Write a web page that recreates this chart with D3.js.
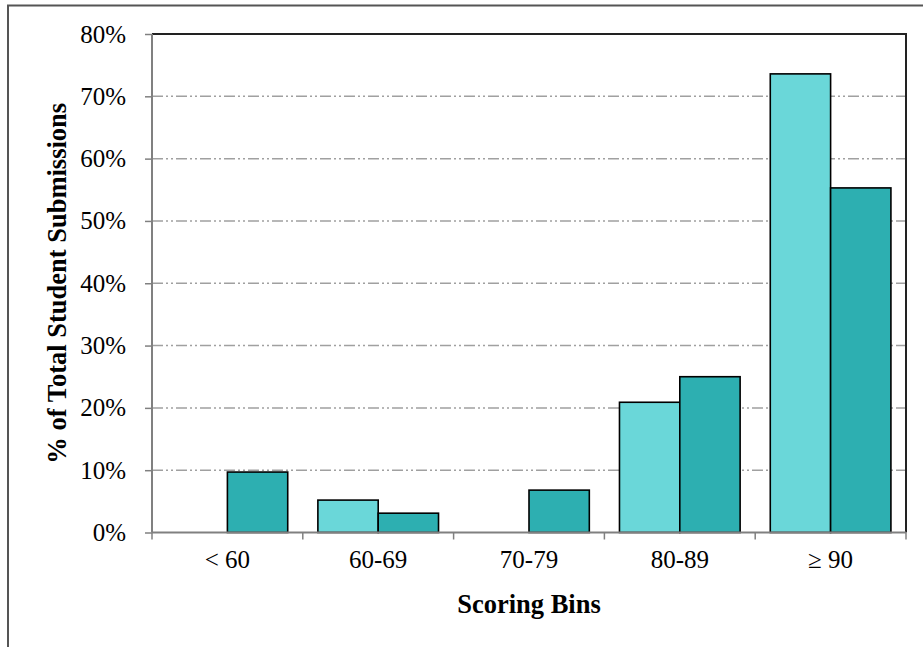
<!DOCTYPE html>
<html>
<head>
<meta charset="utf-8">
<script src="https://cdn.jsdelivr.net/npm/d3@7"></script>
<style>
  html, body { margin: 0; padding: 0; background: #fff; }
  svg { display: block; }
  text { font-family: "Liberation Serif", "Times New Roman", serif; fill: #000; }
</style>
</head>
<body>
<svg id="chart" width="923" height="647"></svg>
<script>
// Score bins and share of submissions (%) for the two groups
const bins = ["< 60", "60-69", "70-79", "80-89", "\u2265 90"];
const seriesNames = ["Group A", "Group B"];
const groupA = [0, 5.2, 0, 20.9, 73.6];
const groupB = [9.7, 3.1, 6.8, 25.0, 55.3];
const yTicks = [0, 10, 20, 30, 40, 50, 60, 70, 80];
const colors = ["#6ad7d9", "#2dafb1"];

const svg = d3.select("#chart");
const margin = { left: 152, top: 34, right: 17, bottom: 114.5 };
const W = 923, H = 647;
const iw = W - margin.left - margin.right;
const ih = H - margin.top - margin.bottom;
const serif = "'Liberation Serif', 'Times New Roman', serif";

// Outer frame
svg.append("path")
  .attr("d", "M8,647 V5.5 H923")
  .attr("fill", "none").attr("stroke", "#555").attr("stroke-width", 2);

const g = svg.append("g").attr("transform", `translate(${margin.left},${margin.top})`);

const x0 = d3.scaleBand().domain(bins).range([0, iw]).paddingInner(0).paddingOuter(0);
const x1 = d3.scaleBand().domain(seriesNames).range([0, x0.bandwidth()]).paddingInner(0).paddingOuter(0.25);
const y = d3.scaleLinear().domain([0, 80]).range([ih, 0]);

// Dash-dot-dot gridlines
g.append("g").selectAll("line")
  .data(yTicks.filter(t => t > 0 && t < 80))
  .join("line")
  .attr("x1", 0).attr("x2", iw)
  .attr("y1", d => y(d)).attr("y2", d => y(d))
  .attr("stroke", "#a0a0a0").attr("stroke-width", 1.5)
  .attr("stroke-dasharray", "11,3,2,3,2,3");

// Bars
const data = bins.map((b, i) => ({ bin: b, vals: [groupA[i], groupB[i]] }));
g.append("g").selectAll("g")
  .data(data)
  .join("g")
  .attr("transform", d => `translate(${x0(d.bin)},0)`)
  .selectAll("rect")
  .data(d => d.vals.map((v, j) => ({ v, s: seriesNames[j], j })).filter(e => e.v > 0))
  .join("rect")
  .attr("x", e => x1(e.s))
  .attr("width", x1.bandwidth())
  .attr("y", e => y(e.v))
  .attr("height", e => y(0) - y(e.v))
  .attr("fill", e => colors[e.j])
  .attr("stroke", "#000").attr("stroke-width", 1.6);

// Plot frame: top and right dark, left and bottom axes gray
g.append("path")
  .attr("d", `M0,0 H${iw} V${ih}`)
  .attr("fill", "none").attr("stroke", "#222").attr("stroke-width", 2);

// Y axis
const yAxis = g.append("g")
  .call(d3.axisLeft(y).tickValues(yTicks).tickFormat(d => d + "%").tickSize(7).tickPadding(19));
yAxis.attr("font-family", serif);
yAxis.select(".domain").attr("stroke", "#808080").attr("stroke-width", 2).attr("d", `M0,${ih} V0`);
yAxis.selectAll(".tick line").attr("stroke", "#808080").attr("stroke-width", 1.5);
yAxis.selectAll(".tick text")
  .style("font-family", serif)
  .attr("font-size", 25).attr("fill", "#000");

// X axis: ticks at bin boundaries, labels centred on bins
const xAxisG = g.append("g").attr("transform", `translate(0,${ih})`);
xAxisG.append("line")
  .attr("x1", 0).attr("x2", iw).attr("y1", 0).attr("y2", 0)
  .attr("stroke", "#808080").attr("stroke-width", 2);
const bounds = bins.map(b => x0(b)).concat([iw]);
xAxisG.selectAll("line.tk")
  .data(bounds)
  .join("line").attr("class", "tk")
  .attr("x1", d => d).attr("x2", d => d)
  .attr("y1", 0).attr("y2", 7)
  .attr("stroke", "#808080").attr("stroke-width", 1.5);
xAxisG.selectAll("text.lbl")
  .data(bins)
  .join("text").attr("class", "lbl")
  .attr("x", d => x0(d) + x0.bandwidth() / 2)
  .attr("y", 35)
  .attr("text-anchor", "middle")
  .style("font-family", serif)
  .attr("font-size", 25)
  .text(d => d);

// Axis titles
svg.append("text")
  .attr("x", margin.left + iw / 2).attr("y", 613)
  .attr("text-anchor", "middle")
  .style("font-family", serif)
  .attr("font-weight", "bold").attr("font-size", 26.5)
  .text("Scoring Bins");

svg.append("text")
  .attr("transform", `translate(66,${margin.top + ih / 2}) rotate(-90)`)
  .attr("text-anchor", "middle")
  .style("font-family", serif)
  .attr("font-weight", "bold").attr("font-size", 26.5)
  .text("% of Total Student Submissions");
</script>
</body>
</html>
